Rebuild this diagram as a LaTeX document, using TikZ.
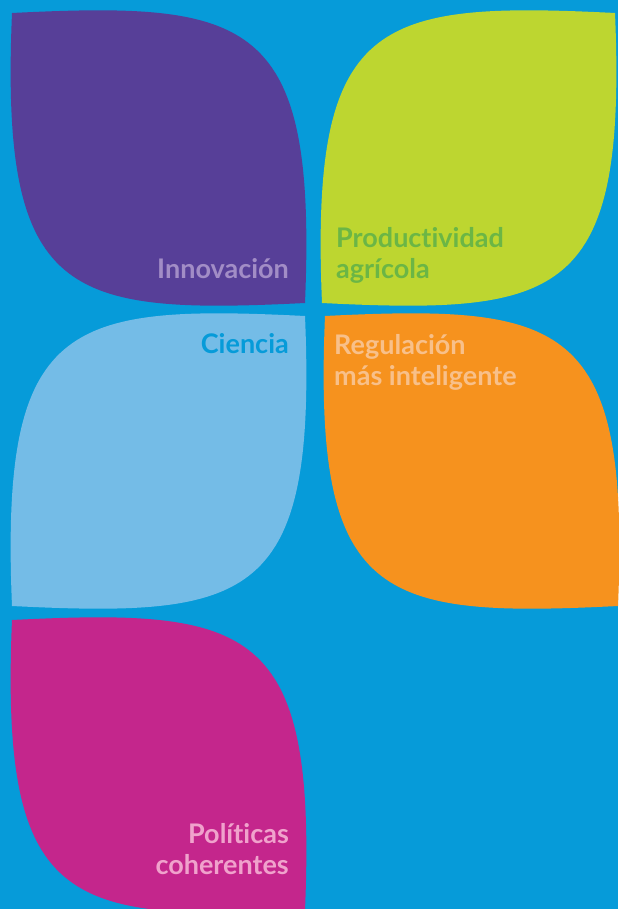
\documentclass[tikz,border=0pt]{standalone}
\usepackage{fontspec}
\setmainfont{Lato}[Ligatures=NoCommon]
\usetikzlibrary{positioning}
\definecolor{SkyBg}{HTML}{069BD9}
\definecolor{LeafPurple}{HTML}{573F98}
\definecolor{LeafLime}{HTML}{BDD630}
\definecolor{LeafSky}{HTML}{74BCE7}
\definecolor{LeafOrange}{HTML}{F6921E}
\definecolor{LeafMagenta}{HTML}{C4268C}
\definecolor{TxtLavender}{HTML}{A28DC6}
\definecolor{TxtGreen}{HTML}{6BB645}
\definecolor{TxtPeach}{HTML}{F8C08A}
\definecolor{TxtPink}{HTML}{F0A2CC}

\begin{document}
\begin{tikzpicture}[x=1pt, y=-1pt,
    leaflabel/.style={inner sep=0pt, font=\fontsize{27}{31}\selectfont\bfseries}]
        % Parameters
        \def\LeafW{293}
        \def\LeafH{290}

        % 1. Background
        \fill[SkyBg] (0,0) rectangle (618,909);
        \useasboundingbox (0,0) rectangle (618,909);

        % 2. Leaves: sharp corners at (0,0) and (\LeafW,\LeafH), mirrored where needed
        \foreach \px/\py/\sx/\col in {12/13/1/LeafPurple, 615/13/-1/LeafLime,
                                     305/316/-1/LeafSky, 325/316/1/LeafOrange,
                                     12/620/1/LeafMagenta} {
            \begin{scope}[shift={(\px,\py)}, xscale=\sx]
                \fill[\col] (0,0) .. controls (240,-12) and (305,5) .. (\LeafW,\LeafH)
                    .. controls (53,302) and (-12,285) .. cycle;
            \end{scope}
        }

        % 3. Labels (base = last line)
        \node[leaflabel, text=TxtLavender, anchor=base east] (innov) at (289,278) {Innovación};
        \node[leaflabel, text=TxtGreen, anchor=base west, align=left] (prod) at (336,278)
            {Productividad\\agrícola};
        \node[leaflabel, text=SkyBg, anchor=base east] (ciencia) at (289,353) {Ciencia};
        \node[leaflabel, text=TxtPeach, anchor=base west, align=left] (regul) at (334,385)
            {Regulación\\más inteligente};
        \node[leaflabel, text=TxtPink, anchor=base east, align=right] (polit) at (289,874)
            {Políticas\\coherentes};

\end{tikzpicture}
\end{document}
